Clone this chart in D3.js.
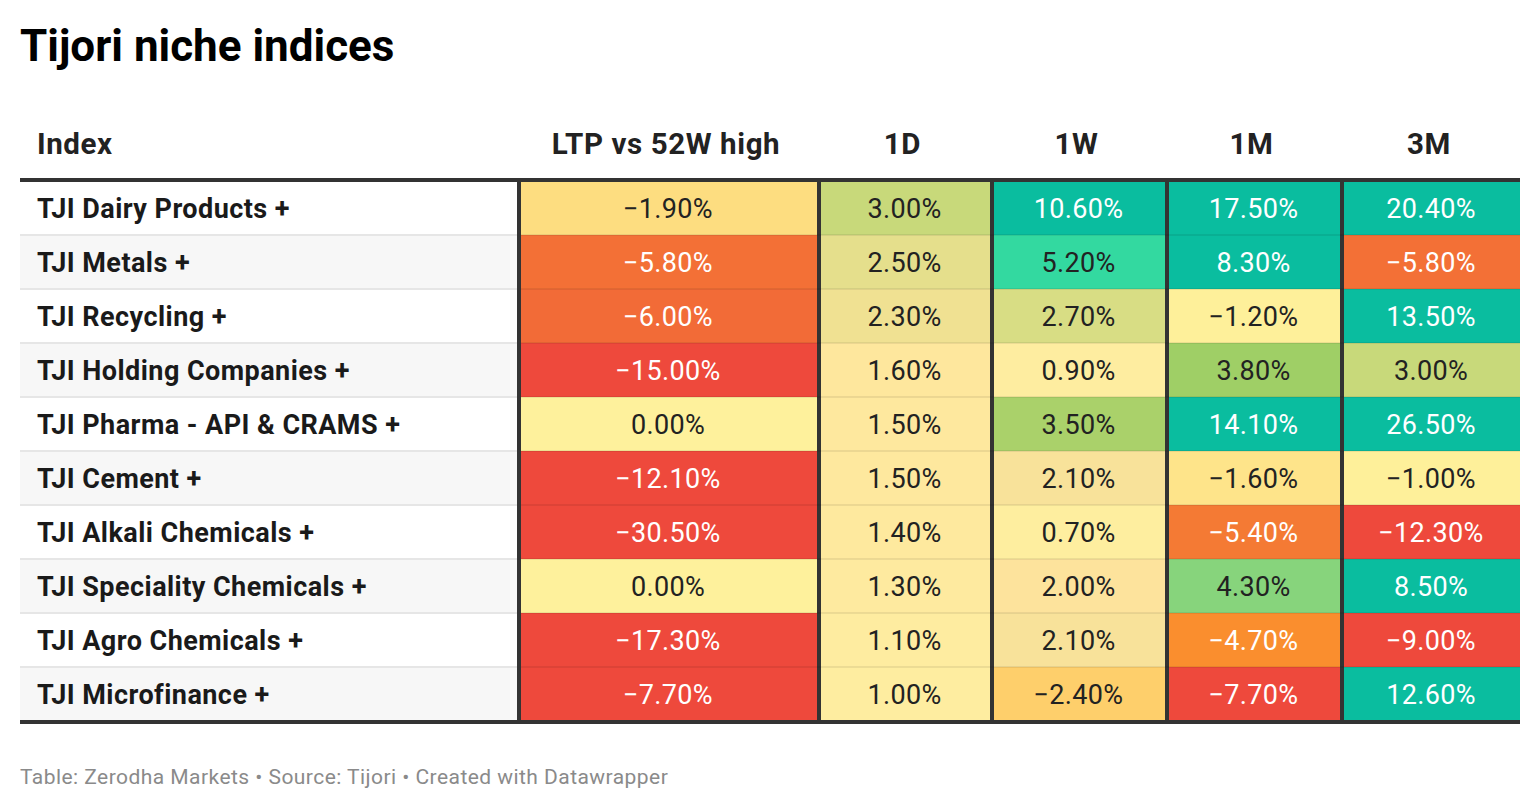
<!DOCTYPE html>
<html>
<head>
<meta charset="utf-8">
<script src="https://cdn.jsdelivr.net/npm/d3@7"></script>
<style>
  body { margin: 0; background: #fff; }
  svg { font-family: Roboto, "Noto Sans", sans-serif; }
</style>
</head>
<body>
<script>
// data
var indices = ['TJI Dairy Products +', 'TJI Metals +', 'TJI Recycling +', 'TJI Holding Companies +',
  'TJI Pharma - API & CRAMS +', 'TJI Cement +', 'TJI Alkali Chemicals +', 'TJI Speciality Chemicals +',
  'TJI Agro Chemicals +', 'TJI Microfinance +']
var columns = ['LTP vs 52W high', '1D', '1W', '1M', '3M']
var ltp = [-1.9, -5.8, -6.0, -15.0, 0.0, -12.1, -30.5, 0.0, -17.3, -7.7]
var d1 = [3.0, 2.5, 2.3, 1.6, 1.5, 1.5, 1.4, 1.3, 1.1, 1.0]
var w1 = [10.6, 5.2, 2.7, 0.9, 3.5, 2.1, 0.7, 2.0, 2.1, -2.4]
var m1 = [17.5, 8.3, -1.2, 3.8, 14.1, -1.6, -5.4, 4.3, -4.7, -7.7]
var m3 = [20.4, -5.8, 13.5, 3.0, 26.5, -1.0, -12.3, 8.5, -9.0, 12.6]
var series = [ltp, d1, w1, m1, m3]

const chart = () => {
  var width = 1540, height = 810
  var svg = d3.select('body').append('svg')
    .attr('width', width)
    .attr('height', height)

  // layout
  var left = 20, right = 1520
  var colEdges = [517, 817, 990, 1165, 1340, right]
  var top = 181, bottom = 721

  var y = d3.scaleBand().domain(indices).range([top, bottom])

  // stepped-ish diverging palette, like datawrapper
  var color = d3.scaleLinear()
    .domain([-7.7, -6.0, -5.4, -4.7, -2.4, -1.9, -1.6, -1.2, 0, 1.0, 1.6, 2.0, 2.1, 2.3, 2.5, 2.7, 3.0, 3.5, 3.8, 4.3, 5.2, 8.3])
    .range(['#ee493c', '#f26b37', '#f47a34', '#fa8e2e', '#fecf6b', '#fddd80', '#fee48a', '#fef09a', '#fef19c',
      '#feeda0', '#fee79d', '#fde39c', '#f8e29a', '#f0e192', '#e5df8c', '#d8dd84', '#c8d97a', '#aad16a',
      '#9fcf66', '#87d47c', '#33d9a0', '#0abd9f'])
    .clamp(true)

  var fmt = v => (v < 0 ? '\u2212' : '') + Math.abs(v).toFixed(2) + '%'
  var textCol = c => d3.lab(c).l < 74 ? '#ffffff' : '#222222'

  svg.append('text')
    .attr('x', 20).attr('y', 61)
    .attr('font-size', 44).attr('font-weight', 700)
    .attr('fill', '#000')
    .text('Tijori niche indices')

  // header
  svg.append('text')
    .attr('x', 37).attr('y', 154)
    .attr('font-size', 29.5).attr('font-weight', 700).attr('fill', '#222')
    .attr('letter-spacing', 0.6)
    .text('Index')
  svg.selectAll('.hdr').data(columns).enter()
    .append('text')
    .attr('x', (d, i) => (colEdges[i] + colEdges[i + 1]) / 2 - 1)
    .attr('y', 154)
    .attr('text-anchor', 'middle')
    .attr('font-size', 29.5).attr('font-weight', 700).attr('fill', '#222')
    .attr('letter-spacing', 0.6)
    .text(d => d)

  // index column
  var rows = svg.selectAll('.row').data(indices).enter()
    .append('g')
    .attr('transform', d => 'translate(0,' + y(d) + ')')
  rows.append('rect')
    .attr('x', left).attr('width', colEdges[0] - left)
    .attr('height', y.bandwidth())
    .attr('fill', (d, i) => i % 2 ? '#f7f7f7' : '#ffffff')
  rows.append('text')
    .attr('x', 37).attr('y', y.bandwidth() / 2 + 9.5)
    .attr('font-size', 27).attr('font-weight', 700).attr('fill', '#1a1a1a')
    .attr('letter-spacing', 0.45)
    .text(d => d)

  // dark background behind value cells, gaps show as column rules
  svg.append('rect')
    .attr('x', colEdges[0]).attr('y', top)
    .attr('width', right - colEdges[0]).attr('height', bottom - top)
    .attr('fill', '#333')

  series.forEach((vals, ci) => {
    var x0 = colEdges[ci] + 4, x1 = colEdges[ci + 1]
    var g = svg.append('g')
    g.selectAll('rect').data(vals).enter()
      .append('rect')
      .attr('x', x0).attr('width', x1 - x0)
      .attr('y', (d, i) => y(indices[i]))
      .attr('height', y.bandwidth())
      .attr('fill', d => color(d))
    g.selectAll('text').data(vals).enter()
      .append('text')
      .attr('x', (x0 + x1) / 2 - 1)
      .attr('y', (d, i) => y(indices[i]) + y.bandwidth() / 2 + 9.5)
      .attr('text-anchor', 'middle')
      .attr('font-size', 27)
      .attr('letter-spacing', 0.35)
      .attr('fill', d => textCol(color(d)))
      .text(d => fmt(d))
  })

  // row rules
  svg.selectAll('.rule').data(indices.slice(1)).enter()
    .append('line')
    .attr('x1', left).attr('x2', colEdges[0])
    .attr('y1', d => y(d)).attr('y2', d => y(d))
    .attr('stroke', '#e6e6e6').attr('stroke-width', 2)
  svg.selectAll('.rule2').data(indices.slice(1)).enter()
    .append('line')
    .attr('x1', colEdges[0] + 4).attr('x2', right)
    .attr('y1', d => y(d)).attr('y2', d => y(d))
    .attr('stroke', 'rgba(0,0,0,0.07)').attr('stroke-width', 2)

  // heavy top and bottom rules
  ;[top - 1, bottom + 1].forEach(yy => {
    svg.append('line')
      .attr('x1', left).attr('x2', right)
      .attr('y1', yy).attr('y2', yy)
      .attr('stroke', '#333').attr('stroke-width', 4)
  })

  svg.append('text')
    .attr('x', 20).attr('y', 784)
    .attr('font-size', 21).attr('fill', '#8a8a8a')
    .attr('letter-spacing', 0.45)
    .text('Table: Zerodha Markets \u2022 Source: Tijori \u2022 Created with Datawrapper')
}

chart()
</script>
</body>
</html>
